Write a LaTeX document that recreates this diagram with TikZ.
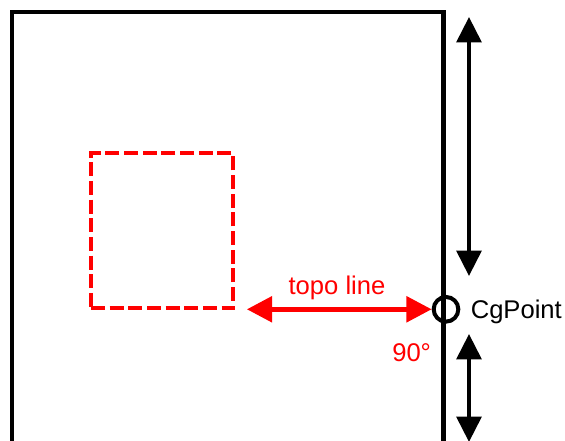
\documentclass[tikz,border=0pt]{standalone}
\usepackage{fontspec}
\setmainfont{Liberation Sans}
\usetikzlibrary{arrows.meta}
\tikzset{
  lbl/.style={inner sep=0pt, font=\fontsize{19.2pt}{22pt}\selectfont},
  frame/.style={line width=3.3pt},
  moveline/.style={<->, line width=2.9pt},
  topobox/.style={draw=red, line width=3.2pt, dash pattern=on 10.5pt off 3.5pt,
    minimum width=106.5pt, minimum height=116.25pt, inner sep=0pt},
  cgdot/.style={circle, draw, line width=3pt, minimum size=18.5pt, inner sep=0pt},
}
\begin{document}
\begin{tikzpicture}[x=0.75pt, y=-0.75pt, >={Triangle[length=19pt,width=18.5pt]}]
\useasboundingbox (0,0) rectangle (565,441);
    \draw[frame] (12,450) |- (443.3,12) -- (443.3,450);
\node[topobox] (topo) at (162,230.8) {};
\node[cgdot] (cg) at (446,309.3) {};
\coordinate (uptop) at (469,17);\coordinate (upbot) at (469,276);
\coordinate (lowtop) at (469,334);\coordinate (lowbot) at (469,442);
    \draw[moveline] (uptop) -- (upbot);
    \draw[moveline] (lowtop) -- (lowbot);
    \draw[red, <->, line width=3.6pt, >={Triangle[length=19pt,width=19pt]},
      shorten <=8.8pt] (topo.south east |- cg.west) -- (cg.west);
\node[lbl, red, anchor=base] (topolbl) at (337,295) {topo line};
\node[lbl, anchor=base west] (cglbl) at (470.5,318.3) {CgPoint};
\node[lbl, red, anchor=base west] (angle) at (392,361.7) {90°};
\end{tikzpicture}
\end{document}
